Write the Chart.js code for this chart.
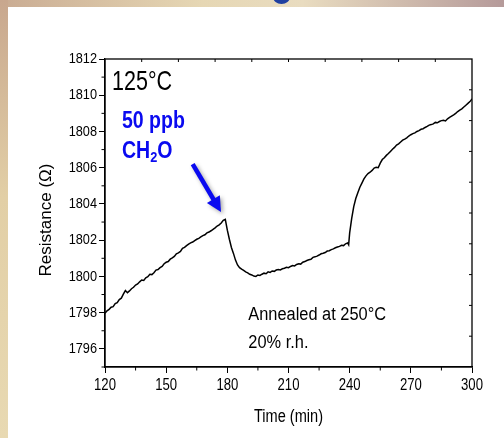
<!DOCTYPE html>
<html>
<head>
<meta charset="utf-8">
<script src="https://cdn.jsdelivr.net/npm/chart.js@4"></script>
<style>
html, body { margin:0; padding:0; }
body {
  width:504px; height:438px; overflow:hidden; position:relative;
  background: linear-gradient(90deg, #c9ab92 0%, #e6d7b4 40%, #e9dcc0 60%, #b59a9a 100%);
}
#side { position:absolute; left:0; top:0; width:8px; height:438px;
  background: linear-gradient(180deg, #c8a78e 0%, #e2cfa6 45%, #e8d9b2 100%); }
#blob { position:absolute; left:273px; top:-10px; width:17px; height:14px; border-radius:50%; background:#1f3fa0; }
#panel { position:absolute; left:8px; top:7px; right:0; bottom:0; background:#fff; }
#wrap { position:absolute; left:0; top:0; width:504px; height:438px; }
</style>
</head>
<body>
<div id="side"></div>
<div id="blob"></div>
<div id="panel"></div>
<div id="wrap"><canvas id="chart" width="504" height="438"></canvas></div>
<script>
// time (min)
let timeMin = [
120,121,122,123,124,125,126,127,128,129,
130,131,132,133,134,135,136,137,138,139,
140,141,142,143,144,145,146,147,148,149,
150,151,152,153,154,155,156,157,158,159,
160,161,162,163,164,165,166,167,168,169,
170,171,172,173,174,175,176,177,178,179,
180,181,182,183,184,185,186,187,188,189,
190,191,192,193,194,195,196,197,198,199,
200,201,202,203,204,205,206,207,208,209,
210,211,212,213,214,215,216,217,218,219,
220,221,222,223,224,225,226,227,228,229,
230,231,232,233,234,235,236,237,238,239,
239.5,
240,241,242,243,244,245,246,247,248,249,
250,251,252,253,254,255,256,257,258,259,
260,261,262,263,264,265,266,267,268,269,
270,271,272,273,274,275,276,277,278,279,
280,281,282,283,284,285,286,287,288,289,
290,291,292,293,294,295,296,297,298,299,300
];

// resistance (ohm)
let resistance = [
1797.97,1798.10,1798.18,1798.30,1798.33,1798.50,1798.55,1798.72,1798.80,1799.02,
1799.22,1799.10,1799.20,1799.32,1799.40,1799.52,1799.58,1799.70,1799.80,1799.78,
1799.92,1799.98,1800.12,1800.10,1800.20,1800.35,1800.38,1800.48,1800.55,1800.70,
1800.78,1800.82,1800.95,1801.02,1801.10,1801.25,1801.30,1801.38,1801.55,1801.60,
1801.70,1801.78,1801.85,1801.90,1801.98,1802.05,1802.10,1802.18,1802.25,1802.30,
1802.40,1802.45,1802.52,1802.60,1802.68,1802.78,1802.85,1802.95,1803.10,1803.15,
1802.55,1802.05,1801.60,1801.27,1800.90,1800.63,1800.48,1800.40,1800.33,1800.25,
1800.20,1800.12,1800.08,1800.02,1800.00,1800.08,1800.05,1800.12,1800.18,1800.15,
1800.25,1800.22,1800.30,1800.28,1800.35,1800.38,1800.36,1800.42,1800.45,1800.50,
1800.48,1800.55,1800.60,1800.58,1800.66,1800.70,1800.68,1800.78,1800.82,1800.88,
1800.92,1800.95,1801.05,1801.08,1801.12,1801.18,1801.25,1801.28,1801.32,1801.40,
1801.42,1801.48,1801.52,1801.58,1801.62,1801.66,1801.72,1801.70,1801.80,1801.85,
1801.75,
1802.40,1803.20,1803.85,1804.30,1804.62,1804.92,1805.15,1805.38,1805.55,1805.68,
1805.75,1805.85,1805.98,1806.02,1806.00,1806.25,1806.45,1806.55,1806.68,1806.78,
1806.90,1807.02,1807.12,1807.25,1807.32,1807.42,1807.52,1807.58,1807.65,1807.75,
1807.82,1807.88,1807.92,1808.00,1808.05,1808.12,1808.15,1808.22,1808.28,1808.35,
1808.38,1808.42,1808.50,1808.48,1808.55,1808.60,1808.62,1808.58,1808.70,1808.78,
1808.85,1808.92,1809.00,1809.10,1809.18,1809.25,1809.35,1809.45,1809.55,1809.65,1809.80
];

let xTickLabels = [120,150,180,210,240,270,300];
let yTickLabels = [1796,1798,1800,1802,1804,1806,1808,1810,1812];
let xMinor = [135,165,195,225,255,285];
let yMinor = [1795,1797,1799,1801,1803,1805,1807,1809,1811];
let topTicks = [138,156,174,192,210,228,246,264,282];
let rightTicks = [1796.7,1798.4,1800.1,1801.8,1803.5,1805.2,1806.9,1808.6,1810.3];

const SANS = "'Liberation Sans',Arial,sans-serif";
const BLUE = '#0a0af0';

let points = timeMin.map((t, i) => ({x: t, y: resistance[i]}));

// the original uses a narrow face, so text is squeezed sideways
function narrowText(ctx, text, px, py, sx, align) {
  ctx.save();
  ctx.translate(px, py);
  ctx.scale(sx, 1);
  ctx.textAlign = align;
  ctx.fillText(text, 0, 0);
  ctx.restore();
}

const extras = {
  id: 'extras',
  afterDraw(chart) {
    const {ctx, chartArea: a, scales: {x, y}} = chart;
    ctx.save();
    ctx.strokeStyle = '#000';
    ctx.lineWidth = 1.3;
    ctx.strokeRect(a.left, a.top, a.right - a.left, a.bottom - a.top);
    ctx.beginPath();
    xMinor.forEach(v => { let p = x.getPixelForValue(v); ctx.moveTo(p, a.bottom); ctx.lineTo(p, a.bottom + 3.5); });
    yMinor.forEach(v => { let p = y.getPixelForValue(v); ctx.moveTo(a.left, p); ctx.lineTo(a.left - 3.5, p); });
    topTicks.forEach(v => { let p = x.getPixelForValue(v); ctx.moveTo(p, a.top); ctx.lineTo(p, a.top + 3); });
    rightTicks.forEach(v => { let p = y.getPixelForValue(v); ctx.moveTo(a.right, p); ctx.lineTo(a.right - 3, p); });
    ctx.lineWidth = 1;
    ctx.stroke();

    ctx.textBaseline = 'middle';
    ctx.fillStyle = '#000';

    // tick labels
    ctx.font = '15px ' + SANS;
    yTickLabels.forEach(v => narrowText(ctx, String(v), a.left - 8, y.getPixelForValue(v), 0.85, 'right'));
    ctx.font = '16px ' + SANS;
    xTickLabels.forEach(v => narrowText(ctx, String(v), x.getPixelForValue(v), a.bottom + 19, 0.82, 'center'));

    // axis titles
    ctx.font = '18px ' + SANS;
    narrowText(ctx, 'Time (min)', (a.left + a.right) / 2, a.bottom + 50, 0.81, 'center');
    ctx.save();
    ctx.translate(a.left - 59, a.top + 161);
    ctx.rotate(-Math.PI / 2);
    ctx.font = '17px ' + SANS;
    ctx.textAlign = 'center';
    ctx.fillText('Resistance (Ω)', 0, 0);
    ctx.restore();

    // notes
    ctx.font = '28px ' + SANS;
    narrowText(ctx, '125°C', x.getPixelForValue(123.4), y.getPixelForValue(1810.73), 0.77, 'left');
    ctx.font = '18px ' + SANS;
    narrowText(ctx, 'Annealed at 250°C', x.getPixelForValue(190.3), y.getPixelForValue(1797.87), 0.91, 'left');
    narrowText(ctx, '20% r.h.', x.getPixelForValue(190.3), y.getPixelForValue(1796.32), 0.91, 'left');

    ctx.fillStyle = BLUE;
    ctx.font = 'bold 23px ' + SANS;
    narrowText(ctx, '50 ppb', x.getPixelForValue(128.3), y.getPixelForValue(1808.54), 0.85, 'left');
    let cx = x.getPixelForValue(128.3), cy = y.getPixelForValue(1806.88);
    narrowText(ctx, 'CH', cx, cy, 0.85, 'left');
    cx += ctx.measureText('CH').width * 0.85;
    ctx.font = 'bold 15px ' + SANS;
    narrowText(ctx, '2', cx, cy + 6, 0.85, 'left');
    cx += ctx.measureText('2').width * 0.85;
    ctx.font = 'bold 23px ' + SANS;
    narrowText(ctx, 'O', cx, cy, 0.85, 'left');

    // arrow
    let x0 = x.getPixelForValue(163.0), y0 = y.getPixelForValue(1806.2);
    let x1 = x.getPixelForValue(176.9), y1 = y.getPixelForValue(1803.55);
    let ang = Math.atan2(y1 - y0, x1 - x0);
    ctx.shadowColor = 'rgba(0,0,0,0.35)';
    ctx.shadowBlur = 4;
    ctx.shadowOffsetX = 2;
    ctx.shadowOffsetY = 2;
    ctx.strokeStyle = BLUE;
    ctx.lineWidth = 4.5;
    ctx.beginPath();
    ctx.moveTo(x0, y0);
    ctx.lineTo(x1 - 12 * Math.cos(ang), y1 - 12 * Math.sin(ang));
    ctx.stroke();
    ctx.beginPath();
    ctx.moveTo(x1, y1);
    ctx.lineTo(x1 - 15 * Math.cos(ang) + 7.5 * Math.sin(ang), y1 - 15 * Math.sin(ang) - 7.5 * Math.cos(ang));
    ctx.lineTo(x1 - 15 * Math.cos(ang) - 7.5 * Math.sin(ang), y1 - 15 * Math.sin(ang) + 7.5 * Math.cos(ang));
    ctx.closePath();
    ctx.fillStyle = BLUE;
    ctx.fill();
    ctx.restore();
  }
};

new Chart(document.getElementById('chart'), {
  type: 'line',
  data: {
    datasets: [{
      data: points,
      borderColor: '#000',
      borderWidth: 1.5,
      pointRadius: 0,
      tension: 0
    }]
  },
  options: {
    responsive: false,
    animation: false,
    layout: { padding: { left: 32, top: 59, right: 32, bottom: 6 } },
    plugins: { legend: { display: false }, tooltip: { enabled: false } },
    scales: {
      x: {
        type: 'linear', min: 120, max: 300,
        afterFit: s => { s.height = 65; },
        ticks: { stepSize: 30, display: false },
        grid: { drawOnChartArea: false, tickLength: 6, tickColor: '#000', tickWidth: 1 },
        border: { color: '#000', width: 1.3 }
      },
      y: {
        min: 1795, max: 1812,
        afterFit: s => { s.width = 73; },
        ticks: { stepSize: 2, display: false, callback: v => (v % 2 === 0 ? String(v) : null) },
        grid: { drawOnChartArea: false, tickLength: 6, tickColor: '#000', tickWidth: 1 },
        border: { color: '#000', width: 1.3 }
      }
    }
  },
  plugins: [extras]
});
</script>
</body>
</html>
